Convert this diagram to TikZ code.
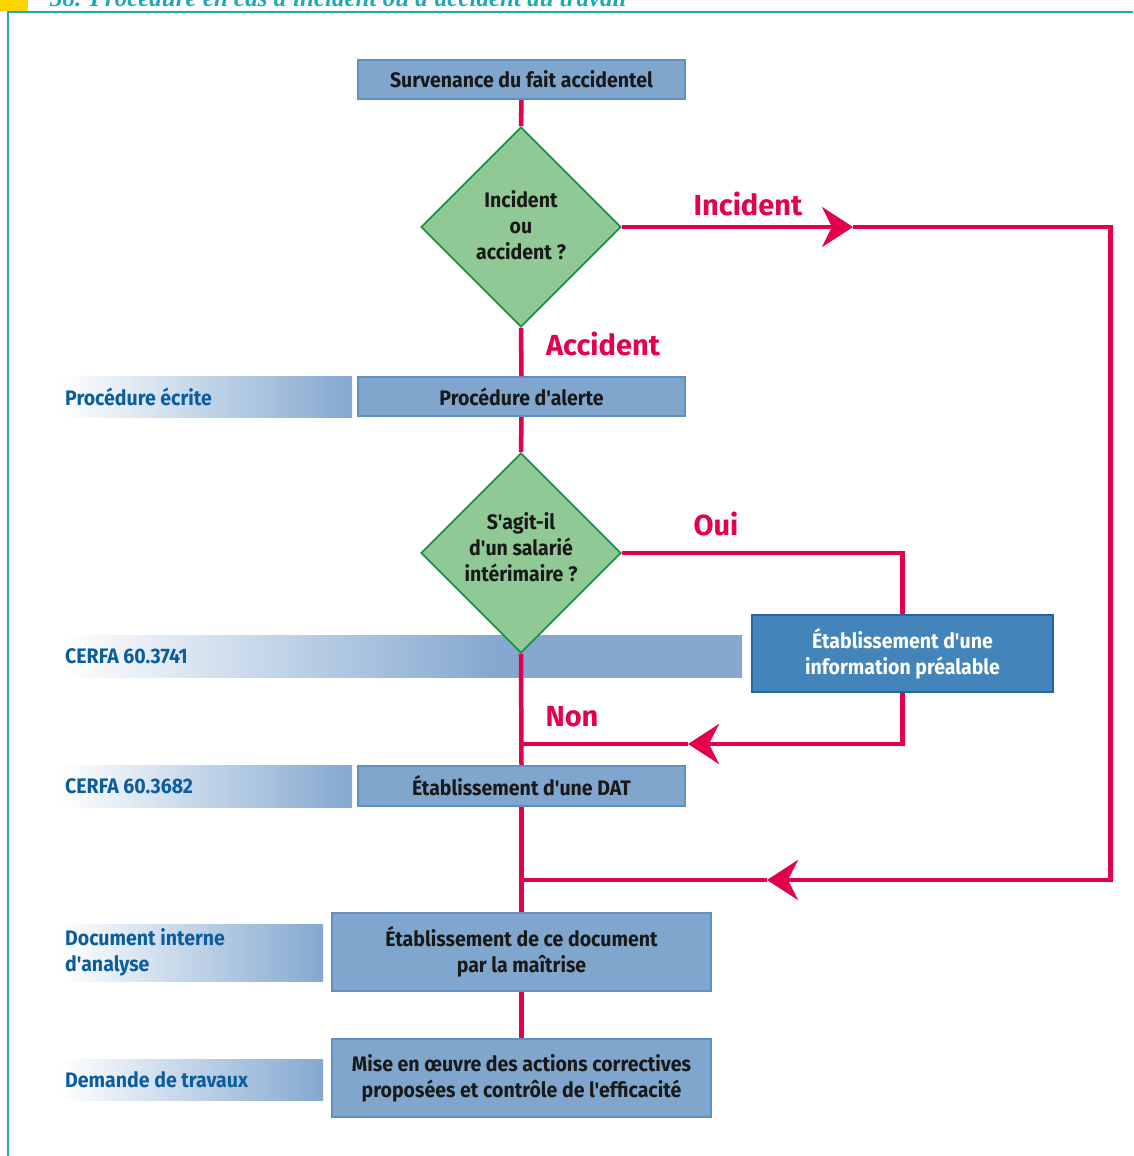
\documentclass[tikz,border=0pt]{standalone}
\usepackage{fontspec}
\setmainfont{Fira Sans}
\newfontfamily\condfont[FakeStretch=0.93,Ligatures=TeXOff]{Fira Sans}
\newfontfamily\titlefont{Liberation Serif}
\usetikzlibrary{shapes.geometric,arrows.meta}
\definecolor{boxfill}{HTML}{80A6CE}
\definecolor{boxedge}{HTML}{5E90C2}
\definecolor{infofill}{HTML}{4384BA}
\definecolor{infoedge}{HTML}{2266A6}
\definecolor{diafill}{HTML}{90C995}
\definecolor{diaedge}{HTML}{1E9046}
\definecolor{flowred}{HTML}{E2004F}
\definecolor{labelblue}{HTML}{0B5E9E}
\definecolor{bandblue}{HTML}{84A8D0}
\definecolor{frameteal}{HTML}{23A6B8}
\definecolor{cornery}{HTML}{FFD400}
\pgfdeclarehorizontalshading{longband}{100bp}{color(0bp)=(white); color(25bp)=(white); color(57bp)=(bandblue); color(100bp)=(bandblue)}
\tikzset{flowtip/.tip={Stealth[length=31pt,width=40pt,inset=10pt]}}

\begin{document}
\begin{tikzpicture}[x=1pt,y=-1pt,
    box/.style={draw=boxedge, line width=2pt, fill=boxfill, text=black!90,
      font=\condfont\bfseries\fontsize{21}{26}\selectfont, align=center, inner sep=0pt},
    decision/.style={diamond, draw=diaedge, line width=1.8pt, fill=diafill,
      minimum width=200pt, minimum height=200pt, inner sep=0pt},
    bandtext/.style={anchor=west, text=labelblue, align=left, inner xsep=5pt, inner ysep=0pt,
      font=\condfont\bfseries\fontsize{21}{26}\selectfont},
    band/.style={left color=white, right color=bandblue},
    flow/.style={draw=flowred, line width=4.5pt},
    answer/.style={text=flowred, font=\bfseries\fontsize{29}{29}\selectfont, inner sep=0pt}]
\useasboundingbox (0,0) rectangle (1133,1156);
\clip (0,0) rectangle (1133,1156);

% title and frame
\fill[cornery] (0,0) rectangle (28,11);
\draw[frameteal, line width=2pt] (8,1160) -- (8,12) -- (1140,12);
\node[anchor=base west, text=frameteal, inner sep=0pt,
  font=\titlefont\bfseries\itshape\fontsize{25}{25}\selectfont] (title) at (50,7)
  {38. Procédure en cas d'incident ou d'accident du travail};

% left bands
\shade[band] (60,376) rectangle (352,417);
\shade[shading=longband] (60,635) rectangle (742,677);
\shade[band] (60,765) rectangle (352,807);
\shade[band] (60,924) rectangle (323,981);
\shade[band] (60,1059) rectangle (323,1100);
\node[bandtext] (ecrite) at (60,396.5) {Procédure écrite};
\node[bandtext] (cerfaA) at (60,656) {CERFA 60.3741};
\node[bandtext] (cerfaB) at (60,786) {CERFA 60.3682};
\node[bandtext] (interne) at (60,952.5) {Document interne\\d'analyse};
\node[bandtext] (travaux) at (60,1079.5) {Demande de travaux};

% chart
\node[box, minimum width=327pt, minimum height=39pt] (start) at (521.5,79.5) {Survenance du fait accidentel};
\node[decision] (d1) at (521,227) {};
\node[box, draw=none, fill=none] (d1text) at (521,225.5) {Incident\\ou\\accident ?};
\node[box, minimum width=327pt, minimum height=39pt] (alerte) at (521.5,396.5) {Procédure d'alerte};
\node[decision] (d2) at (521,553) {};
\node[box, draw=none, fill=none] (d2text) at (521,547) {S'agit-il\\d'un salarié\\intérimaire ?};
\node[box, draw=infoedge, fill=infofill, text=white, minimum width=301pt, minimum height=77pt] (info)
  at (902.5,653.5) {Établissement d'une\\information préalable};
\node[box, minimum width=327pt, minimum height=40pt] (dat) at (521.5,786) {Établissement d'une DAT};
\node[box, minimum width=379pt, minimum height=78pt] (doc) at (521.5,952) {Établissement de ce document\\par la maîtrise};
\node[box, minimum width=379pt, minimum height=78pt] (mise) at (521.5,1078) {Mise en œuvre des actions correctives\\proposées et contrôle de l'efficacité};

\coordinate (incTip) at (853,227);
\coordinate (cNE) at (1110.5,227);
\coordinate (cSE) at (1110.5,880);
\coordinate (joinTip) at (767,880);
\coordinate (join) at (521,880);
\coordinate (nonCorner) at (902.5,744);
\coordinate (nonTip) at (688,744);
\coordinate (nonJoin) at (521,744);

\draw[flow] (start.south) -- (d1.north);
\draw[flow] (d1.south) -- (alerte.north);
\draw[flow] (alerte.south) -- (d2.north);
\draw[flow] (d2.south) -- (dat.north);
\draw[flow] (dat.south) -- (doc.north);
\draw[flow] (doc.south) -- (mise.north);
\draw[flow, -flowtip] (d1.east) -- (incTip);
\draw[flow, -flowtip] (incTip) -- (cNE) -- (cSE) -- (joinTip);
\draw[flow] (joinTip) -- (join);
\draw[flow] (d2.east) -| (info.north);
\draw[flow, -flowtip] (info.south) -- (nonCorner) -- (nonTip);
\draw[flow] (nonTip) -- (nonJoin);

\node[answer] (lblIncident) at (748,204) {Incident};
\node[answer] (lblAccident) at (603,344) {Accident};
\node[answer] (lblOui) at (716,524) {Oui};
\node[answer] (lblNon) at (572,717) {Non};
\end{tikzpicture}
\end{document}
